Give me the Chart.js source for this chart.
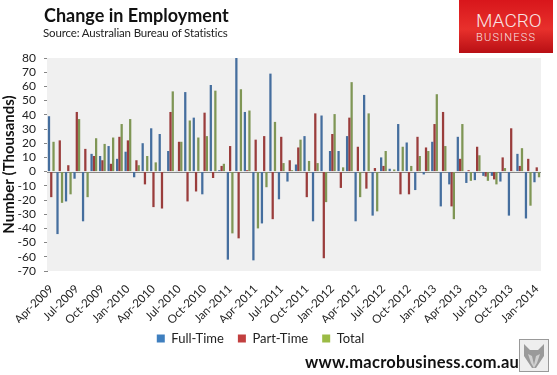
<!DOCTYPE html>
<html>
<head>
<meta charset="utf-8">
<script src="https://cdn.jsdelivr.net/npm/chart.js@4"></script>
<style>
  html, body { margin: 0; padding: 0; background: #fff; }
  #wrap { position: relative; width: 557px; height: 375px; overflow: hidden; font-family: Lato, sans-serif; }
  #wrap div { position: absolute; white-space: nowrap; }
  #title { left: 44px; top: 4px; font-size: 18px; font-weight: 700; color: #111; }
  #source { left: 43px; top: 26px; font-size: 11.5px; letter-spacing: -0.15px; color: #222; }
  #logo { left: 459px; top: 0; width: 94px; height: 53px; background: linear-gradient(#d8161b, #e8302c 55%, #b80f14); color: #f8e4e4; font-family: Roboto, sans-serif; font-weight: 300; }
  #logo .a { left: 17px; top: 9px; font-size: 19px; }
  #logo .b { left: 17px; top: 31px; font-size: 11px; letter-spacing: 1.2px; }
  #url { left: 305px; top: 352px; font-size: 16.5px; font-weight: 700; letter-spacing: 0.25px; color: #111; }
  #fox { position: absolute; left: 519px; top: 339px; }
</style>
</head>
<body>
<div id="wrap">
  <canvas id="empChart" width="557" height="375"></canvas>
  <div id="title">Change in Employment</div>
  <div id="source">Source: Australian Bureau of Statistics</div>
  <div id="logo"><div class="a">MACRO</div><div class="b">BUSINESS</div></div>
  <div id="url">www.macrobusiness.com.au</div>
  <svg id="fox" width="30" height="33" viewBox="0 0 30 33">
    <rect x="0.5" y="0.5" width="29" height="32" fill="#eeeeee" stroke="#999"/>
    <polygon points="5,5 11,11 19,11 25,5 25,17 17,29 13,29 5,17" fill="#9a9a9a"/>
    <polygon points="9,15 13,17 15,26 17,17 21,15 18,24 15,29 12,24" fill="#d0d0d0"/>
  </svg>
</div>
<script>
const months = [
  "Apr-2009","May-2009","Jun-2009","Jul-2009","Aug-2009","Sep-2009","Oct-2009","Nov-2009","Dec-2009",
  "Jan-2010","Feb-2010","Mar-2010","Apr-2010","May-2010","Jun-2010","Jul-2010","Aug-2010","Sep-2010","Oct-2010","Nov-2010","Dec-2010",
  "Jan-2011","Feb-2011","Mar-2011","Apr-2011","May-2011","Jun-2011","Jul-2011","Aug-2011","Sep-2011","Oct-2011","Nov-2011","Dec-2011",
  "Jan-2012","Feb-2012","Mar-2012","Apr-2012","May-2012","Jun-2012","Jul-2012","Aug-2012","Sep-2012","Oct-2012","Nov-2012","Dec-2012",
  "Jan-2013","Feb-2013","Mar-2013","Apr-2013","May-2013","Jun-2013","Jul-2013","Aug-2013","Sep-2013","Oct-2013","Nov-2013","Dec-2013",
  "Jan-2014"
];
const fullTime = [39,-44,-21,-5,-35,12.5,11,18,9,14,-4,20,30.5,26.5,14.5,0.5,56,38,-16,61,1,-62,80,42,-62.5,-36.5,69,-19.5,-7,5,25,-35,39.5,14.5,14.5,25,-35,54,-31,10,2,33.5,20.5,-13,-2,21,-24.5,-9,24.5,-8,-6,-3,-3,-7,-31,12.5,-33,-7.5];
const partTime = [-18,22,4.5,42,16,11,8,5.5,24.5,22,8,-9,-25,-26,42,21,-21,-14,41.5,-4.5,4,18,-47,1,22.5,25,-33.5,24.5,8,17,-18,41,-61,26.5,-11.5,38,17.5,-12,2.5,4,-0.5,-16,-16,24.5,17,33.5,42,-24.5,9,1,17.5,-3.5,-5.5,10,30.5,4,9,3];
const total = [21,-22,-16,37,-18,23.5,19.5,24,33.5,37,4.5,11,6.5,0.5,56.5,21,36,24,25,57,5.5,-43.5,58,43,-40,-11,35,6,1,22.5,7.5,6,-21.5,40.5,3,63,-18,41,-28,14.5,1.5,17.5,4,11,14.5,54.5,18,-33.5,33.5,-6.5,11.5,-6.5,-9,2.5,0.5,16.5,-24,-4];

const seriesNames = ["Full-Time", "Part-Time", "Total"];
const legendColors = ["#3f7fbf", "#c23f3f", "#9bbb45"];
const axisGrey = "#868686";

// grey panel behind the bars, and nudge the legend up and left of its slot
const panelPlugin = {
  id: "panel",
  afterLayout(chart) {
    chart.legend.left -= 10;
    chart.legend.right -= 10;
    chart.legend.top -= 5;
    chart.legend.bottom -= 5;
  },
  beforeDatasetsDraw(chart) {
    const a = chart.chartArea;
    const ctx = chart.ctx;
    ctx.save();
    ctx.fillStyle = "#f0f0f0";
    ctx.fillRect(a.left, a.top, a.width, a.height);
    ctx.strokeStyle = axisGrey;
    ctx.lineWidth = 1;
    const y0 = Math.round(chart.scales.y.getPixelForValue(0)) + 0.5;
    ctx.beginPath();
    ctx.moveTo(a.left, y0);
    ctx.lineTo(a.right, y0);
    ctx.stroke();
    ctx.restore();
  }
};

const ctx = document.getElementById("empChart");
new Chart(ctx, {
  type: "bar",
  data: {
    labels: months,
    datasets: [
      { label: seriesNames[0], data: fullTime, backgroundColor: "#456e9e" },
      { label: seriesNames[1], data: partTime, backgroundColor: "#9a3d3c" },
      { label: seriesNames[2], data: total, backgroundColor: "#7f9655" }
    ]
  },
  options: {
    responsive: false,
    animation: false,
    layout: { padding: { top: 58, right: 16, bottom: 15, left: 0 } },
    datasets: { bar: { categoryPercentage: 0.8, barPercentage: 1 } },
    scales: {
      x: {
        grid: { display: false },
        border: { display: false },
        afterFit(s) { s.height = 52; },
        ticks: {
          autoSkip: false,
          minRotation: 45,
          maxRotation: 45,
          padding: 3,
          color: "#222",
          font: { family: "Lato", size: 11.5 },
          callback(value, index) { return index % 3 === 0 ? months[index] : ""; }
        }
      },
      y: {
        min: -70,
        max: 80,
        afterFit(s) { s.width = 47; },
        grid: { drawOnChartArea: false, tickLength: 3, tickColor: axisGrey },
        border: { color: axisGrey },
        title: {
          display: true,
          text: "Number (Thousands)",
          color: "#111",
          padding: 0,
          font: { family: "Lato", size: 15, weight: "bold" }
        },
        ticks: {
          stepSize: 10,
          autoSkip: false,
          padding: 8,
          color: "#222",
          font: { family: "Lato", size: 12 }
        }
      }
    },
    plugins: {
      title: { display: false },
      tooltip: { enabled: false },
      legend: {
        position: "bottom",
        labels: {
          boxWidth: 8,
          boxHeight: 8,
          padding: 14,
          color: "#222",
          font: { family: "Lato", size: 13 },
          generateLabels(chart) {
            return chart.data.datasets.map((d, i) => ({
              text: d.label,
              fillStyle: legendColors[i],
              strokeStyle: legendColors[i],
              lineWidth: 0,
              fontColor: "#222",
              datasetIndex: i
            }));
          }
        }
      }
    }
  },
  plugins: [panelPlugin]
});
</script>
</body>
</html>
